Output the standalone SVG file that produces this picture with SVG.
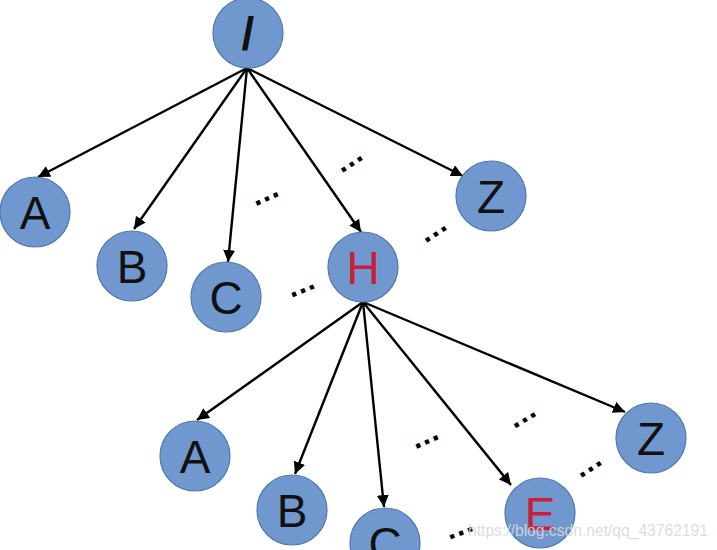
<svg xmlns="http://www.w3.org/2000/svg" width="717" height="550" viewBox="0 0 717 550">
<style>
.n circle{fill:#7098cf;stroke:#4f79b0;stroke-width:1.2}
.n text{font-family:"Liberation Sans",Arial,sans-serif;font-size:46px;text-anchor:middle;fill:#111}
.n text.r{fill:#c8203a}
.c line{stroke:#000;stroke-width:2.4}
.d{font-family:"Liberation Sans",Arial,sans-serif;font-size:30px;font-weight:bold;fill:#000;text-anchor:middle}
.w{font-family:"Liberation Sans",Arial,sans-serif;font-size:16px;fill:#d9d9d9;fill-opacity:0.9}
</style>
<defs>
<marker id="ah" viewBox="0 0 10 10" refX="10" refY="5" markerWidth="5" markerHeight="5" orient="auto" markerUnits="strokeWidth">
<path d="M0,0 L10,5 L0,10 z" fill="#000"/>
</marker>
</defs>
<rect width="717" height="550" fill="#fff"/>
<g class="c" id="connectors">
<line x1="247" y1="68" x2="38" y2="177" marker-end="url(#ah)"/>
<line x1="247" y1="68" x2="134" y2="229" marker-end="url(#ah)"/>
<line x1="247" y1="68" x2="228" y2="262" marker-end="url(#ah)"/>
<line x1="247" y1="68" x2="361" y2="232" marker-end="url(#ah)"/>
<line x1="247" y1="68" x2="463" y2="176" marker-end="url(#ah)"/>
<line x1="363" y1="302" x2="197" y2="420" marker-end="url(#ah)"/>
<line x1="363" y1="302" x2="295" y2="474" marker-end="url(#ah)"/>
<line x1="363" y1="302" x2="384" y2="507" marker-end="url(#ah)"/>
<line x1="363" y1="302" x2="511" y2="485" marker-end="url(#ah)"/>
<line x1="363" y1="302" x2="625" y2="412" marker-end="url(#ah)"/>
</g>
<g id="root" class="n"><circle cx="248" cy="33" r="35"/><text x="248" y="50" font-weight="bold">/</text></g>
<g id="a1" class="n"><circle cx="35" cy="212" r="35"/><text x="35" y="229">A</text></g>
<g id="b1" class="n"><circle cx="132" cy="266" r="35"/><text x="132" y="283">B</text></g>
<g id="c1" class="n"><circle cx="226" cy="297" r="35"/><text x="226" y="314">C</text></g>
<g id="h1" class="n"><circle cx="363" cy="267" r="35"/><text class="r" x="363" y="284">H</text></g>
<g id="z1" class="n"><circle cx="491" cy="196" r="35"/><text x="491" y="213">Z</text></g>
<g id="a2" class="n"><circle cx="195" cy="456" r="35"/><text x="195" y="473">A</text></g>
<g id="b2" class="n"><circle cx="292" cy="510" r="35"/><text x="292" y="527">B</text></g>
<g id="c2" class="n"><circle cx="385" cy="543" r="35"/><text x="385" y="560">C</text></g>
<g id="e2" class="n"><circle cx="540" cy="513" r="35"/><text class="r" x="540" y="530">E</text></g>
<g id="z2" class="n"><circle cx="651" cy="438" r="35"/><text x="651" y="455">Z</text></g>
<g id="dots">
<text class="d" transform="translate(268,201) rotate(-24)">…</text>
<text class="d" transform="translate(353,166) rotate(-33)">…</text>
<text class="d" transform="translate(437,236) rotate(-33)">…</text>
<text class="d" transform="translate(304,293) rotate(-22)">…</text>
<text class="d" transform="translate(428,444) rotate(-24)">…</text>
<text class="d" transform="translate(526,422) rotate(-31)">…</text>
<text class="d" transform="translate(592,471) rotate(-33)">…</text>
<text class="d" transform="translate(462,535) rotate(-21)">…</text>
</g>
<text class="w" x="468" y="536" textLength="240" lengthAdjust="spacingAndGlyphs">https://blog.csdn.net/qq_43762191</text>
</svg>
